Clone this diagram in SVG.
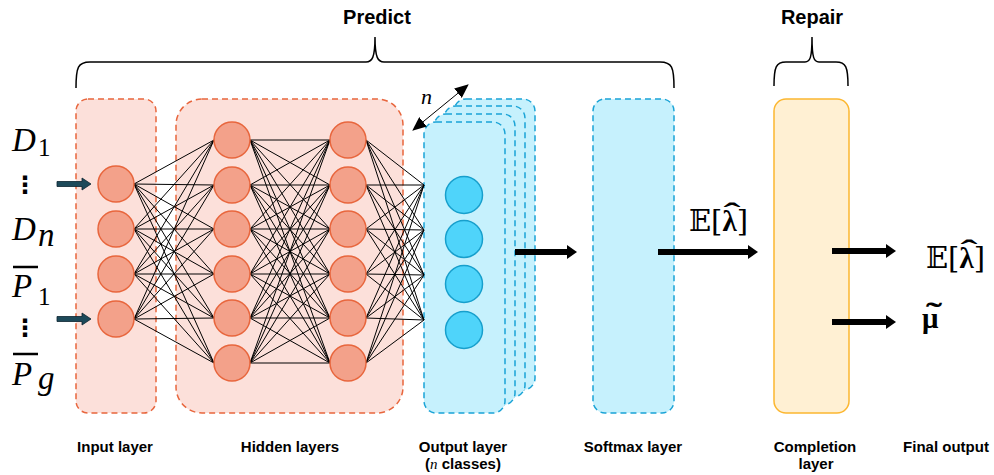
<svg xmlns="http://www.w3.org/2000/svg" width="994" height="475" viewBox="0 0 994 475">
  <style>
    .bg { fill: #ffffff; }
    .layer-red { fill: #fce0da; stroke: #e8663d; stroke-width: 1.5; stroke-dasharray: 6 4; }
    .layer-blue { fill: #c6f1fd; stroke: #1aa3d6; stroke-width: 1.5; stroke-dasharray: 6 4; }
    .layer-yellow { fill: #fff0d3; stroke: #fcb731; stroke-width: 1.5; }
    .neuron-red { fill: #f3a18a; stroke: #e8663d; stroke-width: 1.5; }
    .neuron-blue { fill: #4fd4fa; stroke: #179fcc; stroke-width: 1.5; }
    .edge { fill: none; stroke: #000000; stroke-width: 1; }
    .flow { stroke: #000000; stroke-width: 6; fill: none; }
    .feed { fill: #1d4a5a; stroke: #0b2530; stroke-width: 0.8; }
    .brace { fill: none; stroke: #000000; stroke-width: 1.5; }
    .cap { font-family: "Liberation Sans", Arial, sans-serif; font-weight: bold; font-size: 15px; fill: #000; text-anchor: middle; }
    .head { font-family: "Liberation Sans", Arial, sans-serif; font-weight: bold; font-size: 20px; fill: #000; text-anchor: middle; }
    .var { font-family: "Liberation Serif", "Times New Roman", serif; font-style: italic; font-size: 33px; fill: #000; }
    .sub { font-family: "Liberation Serif", "Times New Roman", serif; font-size: 25px; fill: #000; }
    .math { font-family: "DejaVu Serif", "Liberation Serif", serif; font-size: 29px; fill: #000; }
    .bold { font-family: "Liberation Serif", "DejaVu Serif", serif; font-weight: bold; }
    .accent { font-family: "Liberation Serif", "DejaVu Serif", serif; font-weight: bold; font-size: 30px; fill: #000; text-anchor: middle; }
  </style>
  <defs>
    <marker id="bighead" viewBox="0 0 10 14" refX="0" refY="7" markerWidth="10" markerHeight="14" markerUnits="userSpaceOnUse" orient="auto">
      <path d="M0,0 L10,7 L0,14 Z" fill="#000"/>
    </marker>
    <marker id="thinhead" viewBox="0 0 14 12" refX="13" refY="6" markerWidth="14" markerHeight="12" markerUnits="userSpaceOnUse" orient="auto-start-reverse">
      <path d="M0,0 L14,6 L0,12 Z" fill="#000"/>
    </marker>
  </defs>

  <rect class="bg" x="0" y="0" width="994" height="475"/>

  <!-- braces and stage headings -->
  <g id="predict">
    <text class="head" x="377" y="24">Predict</text>
    <path class="brace" d="M76,88 C76,67 78,62 90,62 L366,62 C372,62 375,58 375,37 C375,58 378,62 384,62 L660,62 C672,62 674,67 674,88"/>
  </g>
  <g id="repair">
    <text class="head" x="812" y="24">Repair</text>
    <path class="brace" d="M774,86 C774,67 776,62 786,62 L805,62 C810,62 812,58 812,37 C812,58 814,62 819,62 L836,62 C846,62 848,67 848,86"/>
  </g>

  <!-- layer containers -->
  <g id="input-layer">
    <rect class="layer-red" x="76" y="99" width="80" height="314" rx="12"/>
  </g>
  <g id="hidden-layers">
    <rect class="layer-red" x="176" y="99" width="227" height="314" rx="26"/>
  </g>
  <!-- output layer: one stacked sheet per class -->
  <g id="output-layer">
    <rect class="layer-blue" x="454" y="99" width="81" height="291" rx="12"/>
    <rect class="layer-blue" x="444" y="106" width="81" height="291" rx="12"/>
    <rect class="layer-blue" x="434" y="114" width="81" height="291" rx="12"/>
    <rect class="layer-blue" x="424" y="122" width="81" height="291" rx="12"/>
  </g>
  <g id="softmax-layer">
    <rect class="layer-blue" x="593" y="99" width="81" height="314" rx="12"/>
  </g>
  <g id="completion-layer">
    <rect class="layer-yellow" x="774" y="99" width="75" height="314" rx="12"/>
  </g>

  <!-- connectors -->
  <g id="connectors">
    <path class="edge" d="
      M134,184L214,140 M134,184L214,185 M134,184L214,229 M134,184L214,274 M134,184L214,318 M134,184L214,363
      M134,229L214,140 M134,229L214,185 M134,229L214,229 M134,229L214,274 M134,229L214,318 M134,229L214,363
      M134,274L214,140 M134,274L214,185 M134,274L214,229 M134,274L214,274 M134,274L214,318 M134,274L214,363
      M134,319L214,140 M134,319L214,185 M134,319L214,229 M134,319L214,274 M134,319L214,318 M134,319L214,363"/>
    <path class="edge" d="
      M250,140L330,140 M250,140L330,185 M250,140L330,229 M250,140L330,274 M250,140L330,318 M250,140L330,363
      M250,185L330,140 M250,185L330,185 M250,185L330,229 M250,185L330,274 M250,185L330,318 M250,185L330,363
      M250,229L330,140 M250,229L330,185 M250,229L330,229 M250,229L330,274 M250,229L330,318 M250,229L330,363
      M250,274L330,140 M250,274L330,185 M250,274L330,229 M250,274L330,274 M250,274L330,318 M250,274L330,363
      M250,318L330,140 M250,318L330,185 M250,318L330,229 M250,318L330,274 M250,318L330,318 M250,318L330,363
      M250,363L330,140 M250,363L330,185 M250,363L330,229 M250,363L330,274 M250,363L330,318 M250,363L330,363"/>
    <path class="edge" d="
      M366,140L424,185 M366,140L424,230 M366,140L424,275 M366,140L424,320
      M366,185L424,185 M366,185L424,230 M366,185L424,275 M366,185L424,320
      M366,229L424,185 M366,229L424,230 M366,229L424,275 M366,229L424,320
      M366,274L424,185 M366,274L424,230 M366,274L424,275 M366,274L424,320
      M366,318L424,185 M366,318L424,230 M366,318L424,275 M366,318L424,320
      M366,363L424,185 M366,363L424,230 M366,363L424,275 M366,363L424,320"/>
    <!-- feature inputs -->
    <path class="feed" d="M57,181.5 H82 V178 L91,184 L82,190 V186.5 H57 Z"/>
    <path class="feed" d="M57,316.5 H82 V313 L91,319 L82,325 V321.5 H57 Z"/>
    <!-- stage flow -->
    <line class="flow" x1="515" y1="252" x2="567" y2="252" marker-end="url(#bighead)"/>
    <line class="flow" x1="658" y1="252" x2="748" y2="252" marker-end="url(#bighead)"/>
    <line class="flow" x1="832" y1="251" x2="886" y2="251" marker-end="url(#bighead)"/>
    <line class="flow" x1="832" y1="322" x2="886" y2="322" marker-end="url(#bighead)"/>
    <!-- number of classes -->
    <line x1="413" y1="130" x2="468" y2="85" stroke="#000" stroke-width="1" marker-start="url(#thinhead)" marker-end="url(#thinhead)"/>
  </g>

  <!-- input neurons -->
  <g id="in1"><circle class="neuron-red" cx="116" cy="184" r="18"/></g>
  <g id="in2"><circle class="neuron-red" cx="116" cy="229" r="18"/></g>
  <g id="in3"><circle class="neuron-red" cx="116" cy="274" r="18"/></g>
  <g id="in4"><circle class="neuron-red" cx="116" cy="319" r="18"/></g>

  <!-- hidden neurons, first column -->
  <g id="h1a"><circle class="neuron-red" cx="232" cy="140" r="18"/></g>
  <g id="h1b"><circle class="neuron-red" cx="232" cy="185" r="18"/></g>
  <g id="h1c"><circle class="neuron-red" cx="232" cy="229" r="18"/></g>
  <g id="h1d"><circle class="neuron-red" cx="232" cy="274" r="18"/></g>
  <g id="h1e"><circle class="neuron-red" cx="232" cy="318" r="18"/></g>
  <g id="h1f"><circle class="neuron-red" cx="232" cy="363" r="18"/></g>

  <!-- hidden neurons, second column -->
  <g id="h2a"><circle class="neuron-red" cx="348" cy="140" r="18"/></g>
  <g id="h2b"><circle class="neuron-red" cx="348" cy="185" r="18"/></g>
  <g id="h2c"><circle class="neuron-red" cx="348" cy="229" r="18"/></g>
  <g id="h2d"><circle class="neuron-red" cx="348" cy="274" r="18"/></g>
  <g id="h2e"><circle class="neuron-red" cx="348" cy="318" r="18"/></g>
  <g id="h2f"><circle class="neuron-red" cx="348" cy="363" r="18"/></g>

  <!-- output neurons -->
  <g id="out1"><circle class="neuron-blue" cx="464" cy="195" r="18.5"/></g>
  <g id="out2"><circle class="neuron-blue" cx="464" cy="239" r="18.5"/></g>
  <g id="out3"><circle class="neuron-blue" cx="464" cy="284" r="18.5"/></g>
  <g id="out4"><circle class="neuron-blue" cx="464" cy="330" r="18.5"/></g>

  <text x="421" y="104" font-family="Liberation Serif, serif" font-style="italic" font-size="22">n</text>

  <!-- input variables -->
  <g id="inputs">
    <text class="var" x="12" y="151">D</text><text class="sub" x="38" y="156">1</text>
    <text x="13" y="193" font-family="DejaVu Sans, sans-serif" font-weight="bold" font-size="24">⋮</text>
    <text class="var" x="12" y="240">D</text><text class="var" x="38" y="246" font-size="25">n</text>
    <line x1="13" y1="267" x2="38" y2="267" stroke="#000" stroke-width="2.5"/>
    <text class="var" x="12" y="297">P</text><text class="sub" x="38" y="305">1</text>
    <text x="13" y="336" font-family="DejaVu Sans, sans-serif" font-weight="bold" font-size="24">⋮</text>
    <line x1="13" y1="354" x2="38" y2="354" stroke="#000" stroke-width="2.5"/>
    <text class="var" x="12" y="385">P</text><text class="var" x="38" y="389" font-size="25">g</text>
  </g>

  <!-- expectation labels -->
  <text class="math" x="689" y="231">𝔼[<tspan class="bold">λ</tspan>]</text>
  <text class="accent" transform="translate(732,223) scale(1.7,1)">ˆ</text>
  <text class="math" x="926" y="268">𝔼[<tspan class="bold">λ</tspan>]</text>
  <text class="accent" transform="translate(969,260) scale(1.7,1)">ˆ</text>
  <text class="math" x="922" y="328" font-size="33"><tspan class="bold">μ</tspan></text>
  <text class="accent" transform="translate(934,323) scale(1.6,1)">˜</text>

  <!-- captions -->
  <text class="cap" x="115" y="452">Input layer</text>
  <text class="cap" x="290" y="452">Hidden layers</text>
  <text class="cap" x="463" y="452">Output layer</text>
  <text class="cap" x="463" y="469">(<tspan font-family="Liberation Serif, serif" font-style="italic" font-weight="normal">n</tspan> classes)</text>
  <text class="cap" x="633" y="452">Softmax layer</text>
  <text class="cap" x="815" y="452">Completion</text>
  <text class="cap" x="816" y="469">layer</text>
  <text class="cap" x="946" y="452">Final output</text>
</svg>
